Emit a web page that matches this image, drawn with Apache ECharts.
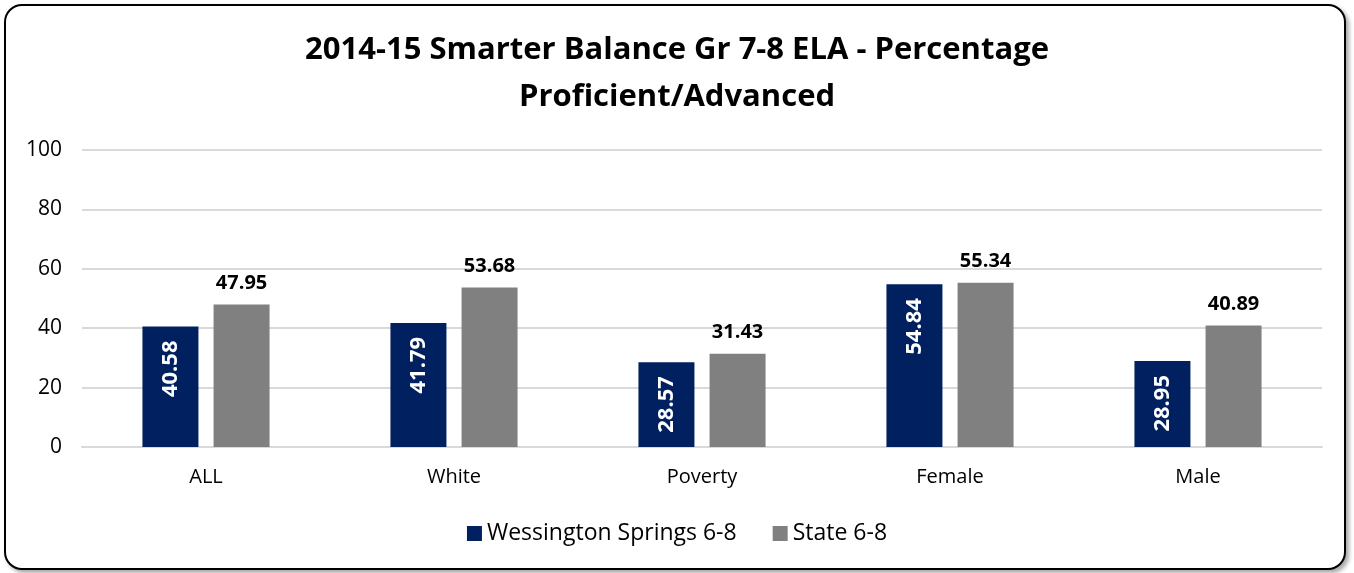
<!DOCTYPE html>
<html>
<head>
<meta charset="utf-8">
<script src="https://cdn.jsdelivr.net/npm/echarts@6/dist/echarts.min.js"></script>
<style>
  html, body { margin: 0; padding: 0; background: #fff; }
  #frame {
    position: absolute; left: 4px; top: 4px; width: 1338px; height: 562px;
    border: 2px solid #000; border-radius: 18px;
    box-shadow: 3px 3px 4px rgba(0,0,0,0.35);
    background: #fff;
  }
  #chart { position: absolute; left: 0; top: 0; width: 1354px; height: 573px; }
</style>
</head>
<body>
<div id="frame"></div>
<div id="chart"></div>
<script>
const categories = ['ALL', 'White', 'Poverty', 'Female', 'Male']
const wessington = [40.58, 41.79, 28.57, 54.84, 28.95]
const state = [47.95, 53.68, 31.43, 55.34, 40.89]
const yTicks = [0, 20, 40, 60, 80, 100]

const FONT = '"Open Sans", "Liberation Sans", sans-serif'
const NAVY = '#002060'
const GRAY = '#808080'

const chart = echarts.init(document.getElementById('chart'))
chart.setOption({
  backgroundColor: 'transparent',
  animation: false,
  title: {
    text: '2014-15 Smarter Balance Gr 7-8 ELA - Percentage\nProficient/Advanced',
    left: 'center',
    top: 22,
    textStyle: { fontFamily: FONT, fontSize: 31, fontWeight: 'bold', color: '#000', lineHeight: 47 },
  },
  legend: {
    left: 'center',
    top: 517,
    itemWidth: 15,
    itemHeight: 15,
    itemGap: 36,
    icon: 'rect',
    textStyle: { fontFamily: FONT, fontSize: 23, color: '#000' },
  },
  grid: { left: 82, right: 32, top: 150, bottom: 126, containLabel: false },
  xAxis: {
    type: 'category',
    data: categories,
    axisLine: { lineStyle: { color: '#d9d9d9', width: 2 } },
    axisTick: { show: false },
    axisLabel: { fontFamily: FONT, fontSize: 20, color: '#000', margin: 20 },
  },
  yAxis: {
    type: 'value',
    min: yTicks[0],
    max: yTicks[yTicks.length - 1],
    interval: 20,
    axisLine: { show: false },
    axisTick: { show: false },
    axisLabel: { fontFamily: FONT, fontSize: 21, color: '#000', margin: 20 },
    splitLine: { lineStyle: { color: '#d9d9d9', width: 2 } },
  },
  series: [
    {
      name: 'Wessington Springs 6-8',
      type: 'bar',
      data: wessington,
      barWidth: 56,
      barGap: '27%',
      itemStyle: { color: NAVY },
      label: {
        show: true,
        position: 'insideTop',
        rotate: 90,
        align: 'right',
        verticalAlign: 'middle',
        distance: 14,
        fontFamily: FONT,
        fontSize: 22,
        fontWeight: 'bold',
        color: '#fff',
      },
    },
    {
      name: 'State 6-8',
      type: 'bar',
      data: state,
      barWidth: 56,
      itemStyle: { color: GRAY },
      label: {
        show: true,
        position: 'top',
        distance: 11,
        fontFamily: FONT,
        fontSize: 20,
        fontWeight: 'bold',
        color: '#000',
      },
    },
  ],
})
</script>
</body>
</html>
